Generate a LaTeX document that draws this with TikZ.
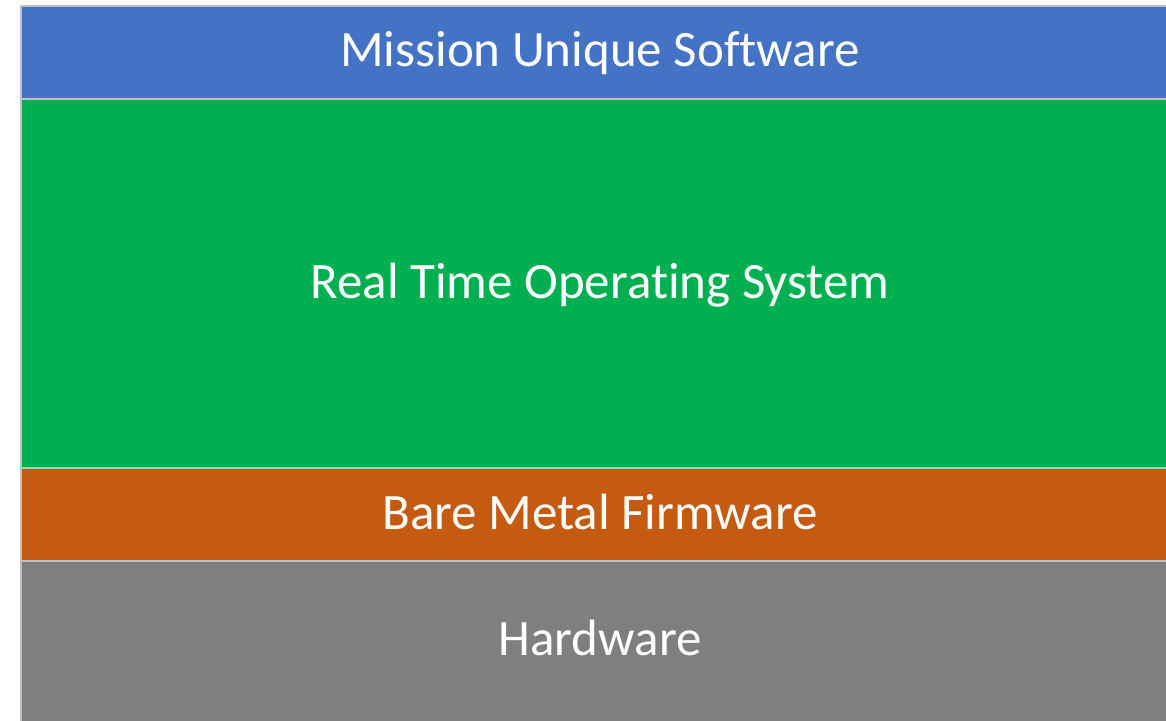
\documentclass[tikz,border=0pt]{standalone}
\usepackage{fontspec}
\setmainfont[RawFeature={-liga}]{Carlito}
\definecolor{msblue}{HTML}{4472C4}
\definecolor{msgreen}{HTML}{00B050}
\definecolor{msorange}{HTML}{C55A11}
\definecolor{msgrey}{HTML}{7F7F7F}
\definecolor{msborder}{HTML}{BFBFBF}
\begin{document}
\begin{tikzpicture}[x=1pt,y=-1pt,
  layer/.style={draw=msborder,line width=1.5pt},
  layertext/.style={text=white,font=\fontsize{51}{60}\selectfont,inner sep=0pt,anchor=base}]
\useasboundingbox (0,0) rectangle (1166,720);
\begin{scope}
\clip (0,0) rectangle (1166,720);
\filldraw[layer,fill=msblue] (21,6) rectangle (1180,99);
\filldraw[layer,fill=msgreen] (21,99) rectangle (1180,468);
\filldraw[layer,fill=msorange] (21,468) rectangle (1180,561);
\filldraw[layer,fill=msgrey] (21,561) rectangle (1180,740);
\end{scope}
\node[layertext] (mus) at (600,66) {Mission Unique Software};
\node[layertext] (rtos) at (600,298) {Real Time Operating System};
\node[layertext] (bmf) at (600,529) {Bare Metal Firmware};
\node[layertext] (hw) at (600,655) {Hardware};
\end{tikzpicture}
\end{document}
